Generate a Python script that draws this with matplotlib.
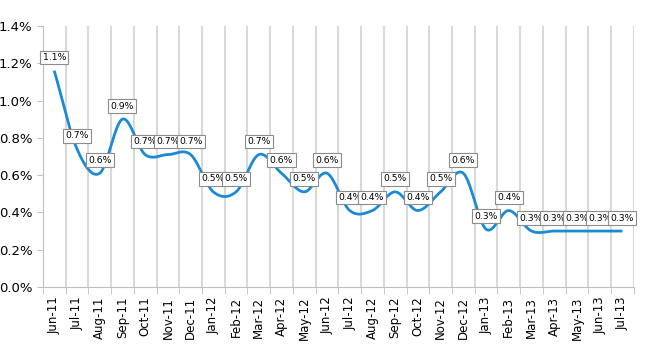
import numpy as np
import matplotlib.pyplot as plt
from matplotlib.ticker import FuncFormatter, FixedLocator

months = ['Jun-11', 'Jul-11', 'Aug-11', 'Sep-11', 'Oct-11', 'Nov-11', 'Dec-11',
          'Jan-12', 'Feb-12', 'Mar-12', 'Apr-12', 'May-12', 'Jun-12', 'Jul-12',
          'Aug-12', 'Sep-12', 'Oct-12', 'Nov-12', 'Dec-12', 'Jan-13', 'Feb-13',
          'Mar-13', 'Apr-13', 'May-13', 'Jun-13', 'Jul-13']
values = [1.16, 0.74, 0.61, 0.90, 0.71, 0.71, 0.71, 0.51, 0.51, 0.71, 0.61, 0.51, 0.61,
          0.41, 0.41, 0.51, 0.41, 0.51, 0.61, 0.31, 0.41, 0.30, 0.30, 0.30, 0.30, 0.30]
labels = ['1.1%', '0.7%', '0.6%', '0.9%', '0.7%', '0.7%', '0.7%', '0.5%', '0.5%',
          '0.7%', '0.6%', '0.5%', '0.6%', '0.4%', '0.4%', '0.5%', '0.4%', '0.5%',
          '0.6%', '0.3%', '0.4%', '0.3%', '0.3%', '0.3%', '0.3%', '0.3%']

plt.rcParams['font.family'] = ['DejaVu Sans']

x = np.arange(len(months))
y = np.array(values)

# catmull-rom style smoothing, like excel's smoothed line
def smooth(x, y, n=20):
    xs, ys = [], []
    m = np.zeros_like(y)
    m[1:-1] = (y[2:] - y[:-2]) / 2.0
    m[0] = y[1] - y[0]
    m[-1] = y[-1] - y[-2]
    for i in range(len(x) - 1):
        t = np.linspace(0, 1, n, endpoint=False)
        h00 = 2*t**3 - 3*t**2 + 1
        h10 = t**3 - 2*t**2 + t
        h01 = -2*t**3 + 3*t**2
        h11 = t**3 - t**2
        xs.append(x[i] + t)
        ys.append(h00*y[i] + h10*m[i] + h01*y[i+1] + h11*m[i+1])
    xs.append([x[-1]])
    ys.append([y[-1]])
    return np.concatenate(xs), np.concatenate(ys)

sx, sy = smooth(x.astype(float), y)

fig = plt.figure(figsize=(6.5, 3.5), dpi=100)
ax = fig.add_axes([0.066, 0.18, 0.909, 0.746])

ax.plot(sx, sy, color='#1a8ad4', lw=2.0, solid_capstyle='butt', zorder=3)

for xi, yi, lab in zip(x, y, labels):
    ax.annotate(lab, (xi, yi), xytext=(0, 13), textcoords='offset pixels',
                ha='center', va='center', fontsize=6.7, zorder=4,
                bbox=dict(boxstyle='square,pad=0.25', fc='white', ec='#8c8c8c', lw=0.8))

ax.set_xlim(-0.5, len(months) - 0.5)
ax.set_ylim(0, 1.4)
ax.set_yticks(np.arange(0, 1.41, 0.2))
ax.yaxis.set_major_formatter(FuncFormatter(lambda v, p: '%.1f%%' % v))

ax.set_xticks(x)
ax.set_xticklabels(months, rotation=90, fontsize=8.5)
ax.xaxis.set_minor_locator(FixedLocator(np.arange(len(months) + 1) - 0.5))
ax.tick_params(axis='x', which='major', length=0, pad=7)
ax.tick_params(axis='x', which='minor', length=5, color='#bfbfbf')
ax.tick_params(axis='y', length=4, color='#bfbfbf', labelsize=9.5)
ax.grid(True, axis='x', which='minor', color='#d9d9d9', lw=1.5)
ax.set_axisbelow(True)

for s in ['top', 'right']:
    ax.spines[s].set_visible(False)
ax.spines['left'].set_color('#bfbfbf')
ax.spines['bottom'].set_color('#bfbfbf')

plt.savefig('out.png', dpi=100)
